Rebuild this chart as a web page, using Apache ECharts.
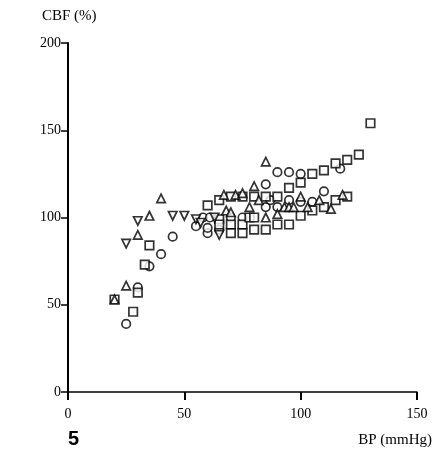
<!DOCTYPE html>
<html>
<head>
<meta charset="utf-8">
<script src="https://cdn.jsdelivr.net/npm/echarts@6/dist/echarts.min.js"></script>
<style>
  html, body { margin: 0; padding: 0; background: #fff; }
  #main { width: 442px; height: 455px; }
</style>
</head>
<body>
<div id="main"></div>
<script>
// BP (mmHg) vs CBF (%)
const circles = [
    [25, 39], [30, 60], [35, 72], [40, 79], [45, 89], [55, 95], [58, 100], [60, 91],
    [60, 94], [61, 100], [65, 93], [70, 100], [75, 100], [85, 106], [85, 119],
    [87, 110], [90, 106], [90, 126], [95, 110], [95, 126], [100, 125], [100, 109],
    [105, 109], [110, 115], [117, 128]
];
const squares = [
    [20, 53], [28, 46], [30, 57], [33, 73], [35, 84], [60, 107], [65, 110],
    [65, 99], [65, 96], [70, 112], [70, 96], [70, 91], [75, 112], [75, 96],
    [75, 91], [78, 100], [80, 112], [80, 100], [80, 93], [85, 112], [85, 93],
    [90, 112], [90, 96], [95, 117], [95, 96], [100, 120], [100, 101], [105, 125],
    [105, 104], [110, 127], [110, 106], [115, 131], [115, 110], [120, 133],
    [120, 112], [125, 136], [130, 154]
];
const trianglesUp = [
    [20, 53], [25, 61], [30, 90], [35, 101], [40, 111], [67, 113], [68, 104],
    [70, 103], [72, 113], [75, 114], [78, 106], [80, 118], [82, 110], [85, 100],
    [85, 132], [90, 102], [93, 106], [95, 106], [97, 106], [100, 112], [103, 106],
    [108, 110], [113, 105], [118, 113]
];
const trianglesDown = [
    [25, 85], [30, 98], [45, 101], [50, 101], [55, 99], [57, 97], [63, 100], [65, 90]
];
const xTicks = [0, 50, 100, 150];
const yTicks = [0, 50, 100, 150, 200];

const font = '"Liberation Serif", "DejaVu Serif", serif';
const chart = echarts.init(document.getElementById('main'));

function markerSeries(name, data, symbol, rotate) {
    return {
        name: name,
        type: 'scatter',
        data: data,
        symbol: symbol,
        symbolSize: 8.5,
        symbolRotate: rotate || 0,
        itemStyle: { color: '#fff', borderColor: '#000', borderWidth: 1.7 },
        silent: true
    };
}

chart.setOption({
    animation: false,
    backgroundColor: '#fff',
    grid: { left: 68, right: 25, top: 43, bottom: 63 },
    xAxis: {
        type: 'value',
        min: xTicks[0], max: xTicks[xTicks.length - 1], interval: 50,
        splitLine: { show: false },
        axisLine: { lineStyle: { color: '#000', width: 1.5 } },
        axisTick: { inside: false, length: 8, lineStyle: { color: '#000', width: 2 } },
        axisLabel: { color: '#000', fontFamily: font, fontSize: 14, margin: 15 }
    },
    yAxis: {
        type: 'value',
        min: yTicks[0], max: yTicks[yTicks.length - 1], interval: 50,
        splitLine: { show: false },
        axisLine: { lineStyle: { color: '#000', width: 2 } },
        axisTick: { inside: false, length: 7, lineStyle: { color: '#000', width: 1.5 } },
        axisLabel: { color: '#000', fontFamily: font, fontSize: 14, margin: 7 }
    },
    graphic: [
        { type: 'text', left: 42, top: 9, style: { text: 'CBF (%)', fontFamily: font, fontSize: 15, fill: '#000' } },
        { type: 'text', right: 10, top: 433, style: { text: 'BP (mmHg)', fontFamily: font, fontSize: 15, fill: '#000' } },
        { type: 'text', left: 68, top: 429, style: { text: '5', fontFamily: 'Liberation Sans, Arial, sans-serif', fontWeight: 'bold', fontSize: 20, fill: '#000' } }
    ],
    series: [
        markerSeries('circle', circles, 'circle'),
        markerSeries('square', squares, 'rect'),
        markerSeries('up', trianglesUp, 'triangle'),
        markerSeries('down', trianglesDown, 'triangle', 180)
    ]
});
</script>
</body>
</html>
